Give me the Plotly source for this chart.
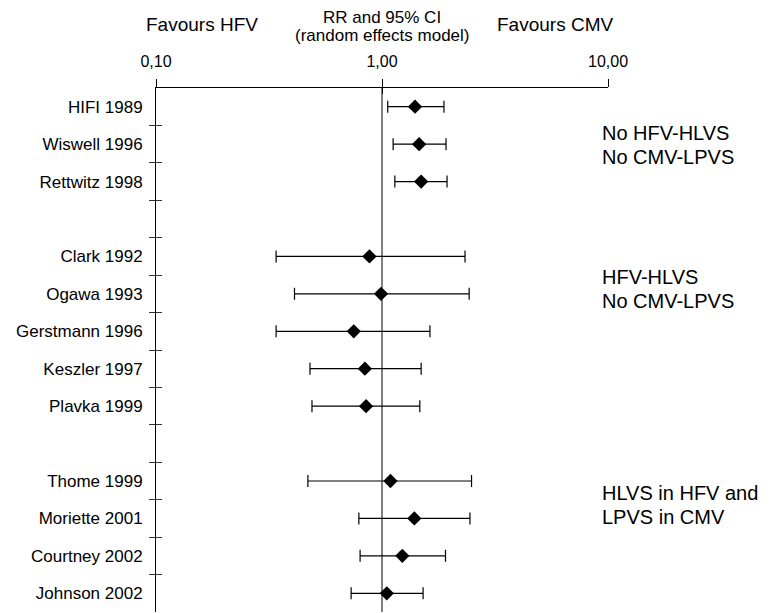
import plotly.graph_objects as go

# ---- data ----
studies = ["HIFI 1989", "Wiswell 1996", "Rettwitz 1998",
           "Clark 1992", "Ogawa 1993", "Gerstmann 1996", "Keszler 1997", "Plavka 1999",
           "Thome 1999", "Moriette 2001", "Courtney 2002", "Johnson 2002"]
rr = [1.40, 1.46, 1.49,
      0.88, 0.99, 0.75, 0.84, 0.85,
      1.09, 1.39, 1.23, 1.05]
ci_low = [1.06, 1.12, 1.14,
          0.34, 0.41, 0.34, 0.48, 0.49,
          0.47, 0.79, 0.80, 0.73]
ci_high = [1.88, 1.92, 1.94,
           2.33, 2.43, 1.63, 1.49, 1.47,
           2.49, 2.45, 1.91, 1.52]
group = [1, 1, 1, 2, 2, 2, 2, 2, 3, 3, 3, 3]
group_label_lines = [["No HFV-HLVS", "No CMV-LPVS"],
                     ["HFV-HLVS", "No CMV-LPVS"],
                     ["HLVS in HFV and", "LPVS in CMV"]]
x_ticks = [0.1, 1, 10]
x_ticktext = ["0,10", "1,00", "10,00"]

FONT = "Liberation Sans, Arial, sans-serif"

# row positions: one blank row between groups
rows = [i + (g - 1) for i, g in enumerate(group)]
n_rows = rows[-1] + 1
halves = [r + 0.5 for r in range(n_rows - 1)]

err_plus = [h - m for h, m in zip(ci_high, rr)]
err_minus = [m - l for m, l in zip(rr, ci_low)]

fig = go.Figure()
fig.add_trace(go.Scatter(
    x=rr, y=rows, mode="markers",
    marker=dict(symbol="diamond", size=11, color="black"),
    error_x=dict(type="data", symmetric=False, array=err_plus, arrayminus=err_minus,
                 color="black", thickness=1.2, width=6),
    showlegend=False, hoverinfo="skip",
))
# invisible trace for overlay axes (inside ticks)
fig.add_trace(go.Scatter(x=[1], y=[0], xaxis="x2", yaxis="y2", mode="markers",
                         marker=dict(opacity=0), showlegend=False, hoverinfo="skip"))

fig.add_shape(type="line", x0=1, x1=1, xref="x", y0=0, y1=1, yref="paper",
              line=dict(color="black", width=1))

# group labels (two lines each), placed beside their group's rows
line_offsets = [-0.32, 0.32]
group_mid = [1.02, 4.87, 10.64]
for lines, gm in zip(group_label_lines, group_mid):
    for txt, off in zip(lines, line_offsets):
        fig.add_annotation(x=0.982, xref="paper", y=gm + off, yref="y", text=txt,
                           showarrow=False, xanchor="left", yanchor="middle", align="left",
                           font=dict(family=FONT, size=20, color="black"))

# header texts
fig.add_annotation(x=0.102, xref="paper", y=1.122, yref="paper", text="Favours HFV",
                   showarrow=False, xanchor="center", yanchor="middle",
                   font=dict(family=FONT, size=19, color="black"))
fig.add_annotation(x=0.883, xref="paper", y=1.122, yref="paper", text="Favours CMV",
                   showarrow=False, xanchor="center", yanchor="middle",
                   font=dict(family=FONT, size=19, color="black"))
fig.add_annotation(x=0.5, xref="paper", y=1.135, yref="paper", text="RR and 95% CI",
                   showarrow=False, xanchor="center", yanchor="middle",
                   font=dict(family=FONT, size=17, color="black"))
fig.add_annotation(x=0.5, xref="paper", y=1.101, yref="paper", text="(random effects model)",
                   showarrow=False, xanchor="center", yanchor="middle",
                   font=dict(family=FONT, size=17, color="black"))

fig.update_layout(
    width=772, height=613,
    margin=dict(l=148, r=172, t=80, b=9, autoexpand=False),
    paper_bgcolor="white", plot_bgcolor="white",
    font=dict(family=FONT, color="black"),
    xaxis=dict(type="log", range=[-1, 1], side="top", showgrid=False, zeroline=False,
               automargin=False,
               showline=True, linecolor="black", linewidth=1,
               tickmode="array", tickvals=x_ticks, ticktext=x_ticktext,
               ticks="outside", ticklen=8, tickcolor="black", tickwidth=1,
               ticklabelstandoff=6,
               tickfont=dict(family=FONT, size=16, color="black")),
    xaxis2=dict(type="log", range=[-1, 1], overlaying="x", side="top", showgrid=False,
                automargin=False,
                zeroline=False, showline=False, tickmode="array", tickvals=x_ticks,
                ticks="inside", ticklen=6, tickcolor="black", showticklabels=False),
    yaxis=dict(range=[n_rows - 0.5, -0.5], showgrid=False, zeroline=False,
               automargin=False,
               showline=True, linecolor="black", linewidth=1,
               tickmode="array", tickvals=rows, ticktext=studies, ticks="",
               ticklabelstandoff=9,
               minor=dict(tickmode="array", tickvals=halves, ticks="outside",
                          ticklen=6, tickcolor="#333", tickwidth=1, showgrid=False),
               tickfont=dict(family=FONT, size=17, color="black")),
    yaxis2=dict(range=[n_rows - 0.5, -0.5], overlaying="y", side="left", showgrid=False,
                automargin=False,
                zeroline=False, showline=False, tickmode="array", tickvals=halves,
                ticks="inside", ticklen=6, tickcolor="#333", showticklabels=False),
)

fig.write_html("out.html")
